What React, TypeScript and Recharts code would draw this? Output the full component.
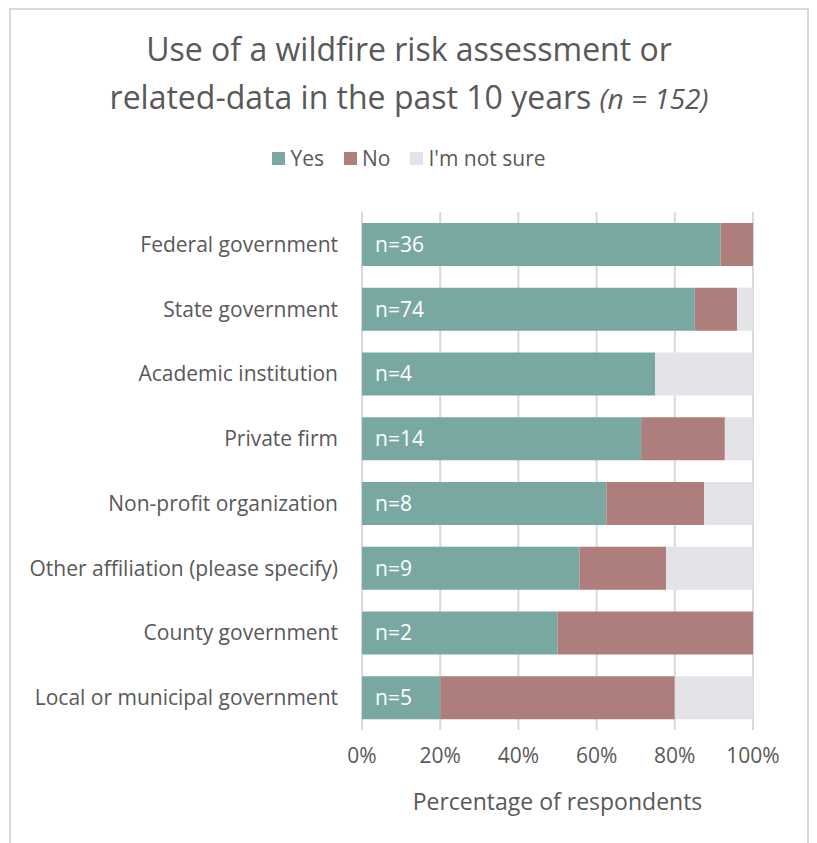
import React from 'react'
import {
  BarChart,
  Bar,
  XAxis,
  YAxis,
  CartesianGrid,
  Legend,
  LabelList,
  Label,
} from 'recharts'

const categories = [
  'Federal government',
  'State government',
  'Academic institution',
  'Private firm',
  'Non-profit organization',
  'Other affiliation (please specify)',
  'County government',
  'Local or municipal government',
]
const counts = [36, 74, 4, 14, 8, 9, 2, 5]
const yesPct = [91.7, 85.1, 75, 71.4, 62.5, 55.6, 50, 20]
const noPct = [8.3, 10.8, 0, 21.4, 25, 22.2, 50, 60]
const notSurePct = [0, 4.1, 25, 7.2, 12.5, 22.2, 0, 20]
const xTicks = [0, 20, 40, 60, 80, 100]

const seriesNames = ['Yes', 'No', "I'm not sure"]
const seriesColors = ['#79a8a3', '#ad7e7c', '#e3e3e8']

const data = categories.map((name, i) => ({
  name,
  n: counts[i],
  yes: yesPct[i],
  no: noPct[i],
  notSure: notSurePct[i],
}))

const FONT = '"Open Sans", sans-serif'
const TEXT = '#595959'

function LegendContent() {
  return (
    <div style={{ display: 'flex', justifyContent: 'center', gap: 20, fontSize: 21, color: TEXT, fontFamily: FONT }}>
      {seriesNames.map((s, i) => (
        <div key={s} style={{ display: 'flex', alignItems: 'center' }}>
          <span style={{ display: 'inline-block', width: 13, height: 13, background: seriesColors[i], marginRight: 5 }} />
          {s}
        </div>
      ))}
    </div>
  )
}

export default function App() {
  return (
    <div
      style={{
        position: 'relative',
        marginLeft: 1,
        marginTop: 0,
        width: 796,
        height: 835,
        border: '2px solid #d9d9d9',
        borderBottom: 'none',
        background: '#fff',
        fontFamily: FONT,
      }}
    >
      <div
        style={{
          position: 'absolute',
          top: 15,
          left: 0,
          width: 796,
          textAlign: 'center',
          fontSize: 32,
          lineHeight: '48px',
          color: TEXT,
        }}
      >
        Use of a wildfire risk assessment or
        <br />
        related-data in the past 10 years <i style={{ fontSize: 28 }}>(n = 152)</i>
      </div>
      <BarChart
        width={796}
        height={833}
        data={data}
        layout="vertical"
        margin={{ top: 202, right: 54, left: 11, bottom: 31 }}
        barSize={43}
      >
        <CartesianGrid horizontal={false} stroke="#d9d9d9" strokeWidth={2} />
        <XAxis
          type="number"
          domain={[0, 100]}
          ticks={xTicks}
          tickFormatter={(v) => `${v}%`}
          axisLine={false}
          tickLine={false}
          tickMargin={12}
          height={82}
          tick={{ fill: TEXT, fontSize: 21, fontFamily: FONT }}
        >
          <Label
            value="Percentage of respondents"
            position="insideBottom"
            offset={2}
            style={{ fill: TEXT, fontSize: 23, fontFamily: FONT }}
          />
        </XAxis>
        <YAxis
          type="category"
          dataKey="name"
          width={340}
          axisLine={false}
          tickLine={false}
          tickMargin={18}
          interval={0}
          tick={{ fill: TEXT, fontSize: 21, fontFamily: FONT }}
        />
        <Legend
          verticalAlign="middle"
          wrapperStyle={{ top: 134, left: 0, width: 796 }}
          content={() => <LegendContent />}
        />
        <Bar dataKey="yes" name={seriesNames[0]} stackId="a" fill={seriesColors[0]} isAnimationActive={false}>
          <LabelList
            dataKey="n"
            position="insideLeft"
            offset={13}
            formatter={(v: number) => `n=${v}`}
            style={{ fill: '#fff', fontSize: 21, fontFamily: FONT }}
          />
        </Bar>
        <Bar dataKey="no" name={seriesNames[1]} stackId="a" fill={seriesColors[1]} isAnimationActive={false} />
        <Bar dataKey="notSure" name={seriesNames[2]} stackId="a" fill={seriesColors[2]} isAnimationActive={false} />
      </BarChart>
    </div>
  )
}
